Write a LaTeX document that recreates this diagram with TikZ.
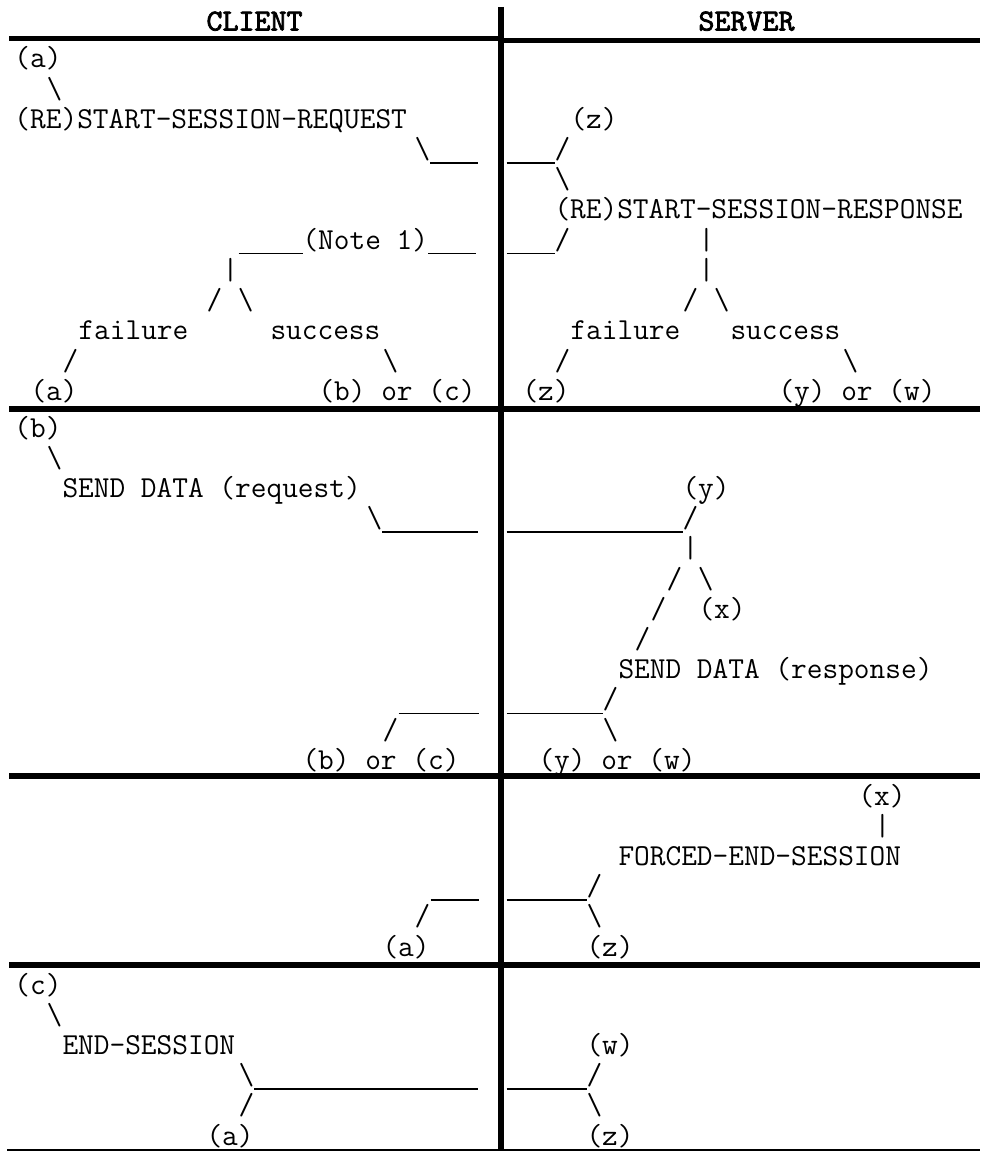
\documentclass[tikz,border=0pt]{standalone}

% bold-looking typewriter face for the column heads
\font\headfnt="[lmmono10-regular]:embolden=2.5" at 11.43pt

\tikzset{
  asc/.style={anchor=base west, inner sep=0pt, outer sep=0pt,
    font=\fontsize{11.43pt}{13pt}\selectfont\ttfamily},
  head/.style={anchor=base, inner sep=0pt, outer sep=0pt, font=\headfnt},
  rule/.style={line width=2.25pt},
  cell/.style={x=6pt, y=-11.325pt},
}
% a run of underscores, one character cell (6pt) each
\newcommand\unds[1]{\rule[-1.85pt]{#1\dimexpr6pt\relax}{0.4pt}}
\newcommand\bsl{\textbackslash}

\begin{document}
\begin{tikzpicture}[x=0.375pt, y=-0.375pt]
    \useasboundingbox (0,0) rectangle (980,1151);

    % Table rules
    \draw[line width=1.875pt] (9,39) -- (500,39);
    \draw[line width=1.875pt] (500,41) -- (980,41);
    \foreach \yy in {408.7,776,965} {
        \draw[rule] (9,\yy) -- (980,\yy);
    }
    \draw[line width=0.55pt] (7,1150.2) -- (980,1150.2);
    \draw[rule] (500.7,7) -- (500.7,1151);

    % Headers
    \node[head] (client) at (254.5,30.5) {CLIENT};
    \node[head] (server) at (746.5,30.5) {SERVER};

    % Row 1, client
    \begin{scope}[shift={(14.5,68)}, cell]
        \node[asc] (ca) at (0,0) {(a)};
        \node[asc] (cabs) at (2,1) {\bsl};
        \node[asc] (req) at (0,2) {(RE)START-SESSION-REQUEST};
        \node[asc] (reqout) at (25,3) {\bsl\unds{3}};
        \node[asc] (note) at (14,6) {\unds{4}(Note 1)\unds{3}};
        \node[asc] (notebar) at (13,7) {|};
        \node[asc] (notesplit) at (12,8) {/ \bsl};
        \node[asc] (cfail) at (4,9) {failure};
        \node[asc] (csucc) at (16,9) {success};
        \node[asc] (cfailsl) at (3,10) {/};
        \node[asc] (csuccsl) at (23,10) {\bsl};
        \node[asc] (cfailto) at (1,11) {(a)};
        \node[asc] (csuccto) at (19,11) {(b) or (c)};
    \end{scope}

    % Row 1, server
    \begin{scope}[shift={(506.5,68)}, cell]
        \node[asc] (sz) at (4,2) {(z)};
        \node[asc] (reqin) at (0,3) {\unds{3}/};
        \node[asc] (szbs) at (3,4) {\bsl};
        \node[asc] (resp) at (3,5) {(RE)START-SESSION-RESPONSE};
        \node[asc] (respout) at (0,6) {\unds{3}/};
        \node[asc] (respbar) at (12,6) {|};
        \node[asc] (respbarb) at (12,7) {|};
        \node[asc] (respsplit) at (11,8) {/ \bsl};
        \node[asc] (sfail) at (4,9) {failure};
        \node[asc] (ssucc) at (14,9) {success};
        \node[asc] (sfailsl) at (3,10) {/};
        \node[asc] (ssuccsl) at (21,10) {\bsl};
        \node[asc] (sfailto) at (1,11) {(z)};
        \node[asc] (ssuccto) at (17,11) {(y) or (w)};
    \end{scope}

    % Row 2, client
    \begin{scope}[shift={(14.5,437)}, cell]
        \node[asc] (cb) at (0,0) {(b)};
        \node[asc] (cbbs) at (2,1) {\bsl};
        \node[asc] (dreq) at (3,2) {SEND DATA (request)};
        \node[asc] (dreqout) at (22,3) {\bsl\unds{6}};
        \node[asc] (drespin) at (24,9) {\unds{5}};
        \node[asc] (drespsl) at (23,10) {/};
        \node[asc] (drespto) at (18,11) {(b) or (c)};
    \end{scope}

    % Row 2, server
    \begin{scope}[shift={(506.5,437)}, cell]
        \node[asc] (sy) at (11,2) {(y)};
        \node[asc] (dreqin) at (0,3) {\unds{11}/};
        \node[asc] (sybar) at (11,4) {|};
        \node[asc] (sysplit) at (10,5) {/ \bsl};
        \node[asc] (sysl) at (9,6) {/};
        \node[asc] (sx) at (12,6) {(x)};
        \node[asc] (syslb) at (8,7) {/};
        \node[asc] (dresp) at (7,8) {SEND DATA (response)};
        \node[asc] (drespout) at (0,9) {\unds{6}/};
        \node[asc] (drespbs) at (6,10) {\bsl};
        \node[asc] (drespnext) at (2,11) {(y) or (w)};
    \end{scope}

    % Row 3, client
    \begin{scope}[shift={(14.5,805)}, cell]
        \node[asc] (forcein) at (26,3) {\unds{3}};
        \node[asc] (forcesl) at (25,4) {/};
        \node[asc] (forceto) at (23,5) {(a)};
    \end{scope}

    % Row 3, server
    \begin{scope}[shift={(506.5,805)}, cell]
        \node[asc] (sxb) at (22,0) {(x)};
        \node[asc] (sxbar) at (23,1) {|};
        \node[asc] (force) at (7,2) {FORCED-END-SESSION};
        \node[asc] (forceout) at (0,3) {\unds{5}/};
        \node[asc] (forcebs) at (5,4) {\bsl};
        \node[asc] (forcez) at (5,5) {(z)};
    \end{scope}

    % Row 4, client
    \begin{scope}[shift={(14.5,994)}, cell]
        \node[asc] (cc) at (0,0) {(c)};
        \node[asc] (ccbs) at (2,1) {\bsl};
        \node[asc] (endreq) at (3,2) {END-SESSION};
        \node[asc] (endout) at (14,3) {\bsl\unds{14}};
        \node[asc] (endsl) at (14,4) {/};
        \node[asc] (endto) at (12,5) {(a)};
    \end{scope}

    % Row 4, server
    \begin{scope}[shift={(506.5,994)}, cell]
        \node[asc] (sw) at (5,2) {(w)};
        \node[asc] (endin) at (0,3) {\unds{5}/};
        \node[asc] (endbs) at (5,4) {\bsl};
        \node[asc] (endz) at (5,5) {(z)};
    \end{scope}
\end{tikzpicture}
\end{document}
